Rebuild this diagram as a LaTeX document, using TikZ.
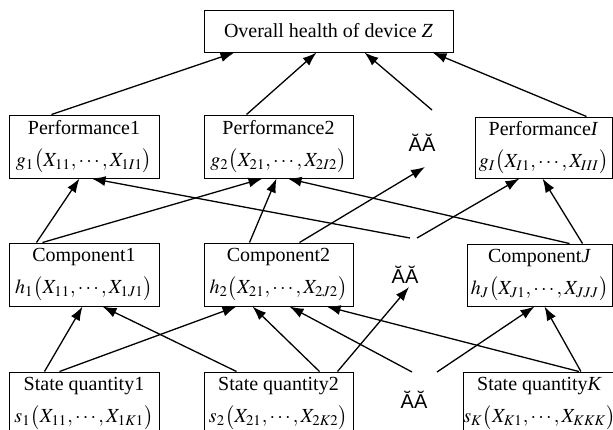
\documentclass[tikz,border=0pt]{standalone}
\usepackage{mathptmx}
\usepackage{fontspec}
\setmainfont{Liberation Serif}
\newfontfamily\dotsfont{Liberation Sans}
\usetikzlibrary{arrows.meta,calc}

\begin{document}
\begin{tikzpicture}[x=0.5pt,y=-0.5pt,
        box/.style={draw, line width=0.5pt, align=center, inner sep=0pt, font=\fontsize{10}{16}\selectfont},
        gap/.style={font=\dotsfont\fontsize{10}{12}\selectfont, inner sep=0pt},
        link/.style={-{Latex[length=7pt,width=5pt]}, line width=0.65pt}]
        \useasboundingbox (0,0) rectangle (613,429);

        \node[box, minimum width=124.5pt, minimum height=21pt] (overall) at (328.5,31) {Overall health of device \textit{Z}};

        \node[box, minimum width=75pt, minimum height=31.5pt] (perf1) at (84,146.5) {Performance1\\$g_1\bigl(X_{11},\cdots,X_{1I1}\bigr)$};
        \node[box, minimum width=74.5pt, minimum height=31.5pt] (perf2) at (278.5,146.5) {Performance2\\$g_2\bigl(X_{21},\cdots,X_{2I2}\bigr)$};
        \node[gap] (pdots) at (422,143) {ĂĂ};
        \node[box, minimum width=68.5pt, minimum height=30.5pt] (perfI) at (543.5,147.5) {Performance\textit{I}\\$g_I\bigl(X_{I1},\cdots,X_{III}\bigr)$};

        \node[box, minimum width=75pt, minimum height=31.5pt] (comp1) at (84,274.5) {Component1\\$h_1\bigl(X_{11},\cdots,X_{1J1}\bigr)$};
        \node[box, minimum width=74.5pt, minimum height=31.5pt] (comp2) at (278.5,274.5) {Component2\\$h_2\bigl(X_{21},\cdots,X_{2J2}\bigr)$};
        \node[gap] (cdots) at (405,275) {ĂĂ};
        \node[box, minimum width=72.5pt, minimum height=31pt] (compJ) at (539.5,275) {Component\textit{J}\\$h_J\bigl(X_{J1},\cdots,X_{JJJ}\bigr)$};

        \node[box, minimum width=75pt, minimum height=31.5pt] (state1) at (84,403.5) {State quantity1\\$s_1\bigl(X_{11},\cdots,X_{1K1}\bigr)$};
        \node[box, minimum width=74.5pt, minimum height=31.5pt] (state2) at (278.5,403.5) {State quantity2\\$s_2\bigl(X_{21},\cdots,X_{2K2}\bigr)$};
        \node[gap] (sdots) at (414,400) {ĂĂ};
        \node[box, minimum width=72.5pt, minimum height=31.5pt] (stateK) at (539.5,403.5) {State quantity\textit{K}\\$s_K\bigl(X_{K1},\cdots,X_{KKK}\bigr)$};

        \draw[link] ($(perf1.north west)+(43,0)$) -- ($(overall.south west)+(31,0)$);
        \draw[link] ($(perf2.north west)+(43,0)$) -- ($(overall.south west)+(113,0)$);
        \draw[link] ($(pdots)+(10,-33)$) -- ($(overall.south west)+(161,0)$);
        \draw[link] ($(perfI.north west)+(112,0)$) -- ($(overall.south west)+(229,0)$);

        \draw[link] ($(comp1.north west)+(28,0)$) -- ($(perf1.south west)+(71,0)$);
        \draw[link] ($(comp1.north west)+(34,0)$) -- ($(perf2.south west)+(59,0)$);
        \draw[link] ($(comp2.north west)+(46,0)$) -- ($(perf2.south west)+(73,0)$);
        \draw[link] ($(comp2.north west)+(96,0)$) -- ($(pdots)+(3,24)$);
        \draw[link] ($(cdots)+(5,-37)$) -- ($(perf1.south west)+(83,0)$);
        \draw[link] ($(cdots)+(12,-37)$) -- ($(perfI.south west)+(45,0)$);
        \draw[link] ($(compJ.north west)+(103,0)$) -- ($(perf2.south west)+(84,0)$);
        \draw[link] ($(compJ.north west)+(116,0)$) -- ($(perfI.south west)+(68,0)$);

        \draw[link] ($(state1.north west)+(36,0)$) -- ($(comp1.south west)+(74,0)$);
        \draw[link] ($(state1.north west)+(51,0)$) -- ($(comp2.south west)+(33,0)$);
        \draw[link] ($(state2.north west)+(33,0)$) -- ($(comp1.south west)+(94,0)$);
        \draw[link] ($(state2.north west)+(116,0)$) -- ($(comp2.south west)+(49,0)$);
        \draw[link] ($(state2.north west)+(134,0)$) -- ($(cdots)+(4,12)$);
        \draw[link] ($(sdots)+(-2,-28)$) -- ($(comp2.south west)+(86,0)$);
        \draw[link] ($(sdots)+(23,-28)$) -- ($(compJ.south west)+(68,0)$);
        \draw[link] ($(stateK.north west)+(116,0)$) -- ($(comp2.south west)+(123,0)$);
        \draw[link] ($(stateK.north west)+(118,0)$) -- ($(compJ.south west)+(78,0)$);
    \end{tikzpicture}
\end{document}
